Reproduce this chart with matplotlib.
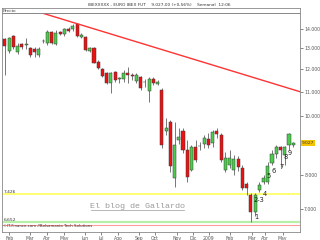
import matplotlib
matplotlib.use("Agg")
import matplotlib.pyplot as plt
import matplotlib.transforms as mtransforms
from matplotlib.ticker import FixedLocator, NullLocator

# weekly candles, IBEX futures (points)
opens = [13457, 12880, 13629, 12830, 13216, 13180, 12999, 12964, 12668, 13370,
         13251, 13857, 13216, 13857, 13734, 14000, 13985, 14273, 13592, 13592,
         12865, 12999, 12347, 11990, 11835, 11362, 11881, 11540, 11538, 11835,
         11731, 11476, 11628, 11400, 11043, 11538, 11350, 11073, 9469, 9802,
         7884, 9136, 9469, 8791, 8140, 8883, 8910, 8996, 9160, 9020,
         9469, 9313, 8140, 8299, 8140, 8492, 8203, 7713, 7394, 6926,
         7538, 7773, 7773, 8363, 8657, 8893, 8624, 8962, 8960]
highs = [13524, 13561, 13682, 13251, 13282, 13509, 13080, 13049, 13049, 13457,
         13947, 13910, 13947, 13910, 14038, 14093, 14273, 14345, 13771, 13629,
         13049, 13049, 12427, 12037, 11881, 11881, 11926, 11654, 11958, 12111,
         11808, 11808, 11686, 11538, 11628, 11628, 11500, 11146, 9950, 9866,
         9802, 9550, 9550, 9136, 8950, 9136, 9050, 9300, 9385, 9500,
         9550, 9385, 8724, 8791, 8624, 8600, 8299, 7773, 7451, 7451,
         7773, 7985, 8395, 8791, 8962, 8927, 8927, 9385, 9060]
lows = [11731, 12752, 12950, 12717, 12950, 12950, 12586, 12586, 12586, 13282,
        13165, 13216, 13165, 13666, 13629, 13857, 13910, 13592, 13509, 12880,
        12830, 12271, 11990, 11654, 11331, 10933, 11432, 11362, 11432, 11362,
        11507, 11388, 11073, 11214, 10586, 11300, 11300, 8849, 9300, 8087,
        7634, 9000, 8700, 7782, 8100, 8400, 8800, 8850, 8850, 8900,
        9200, 8395, 8078, 8203, 7985, 8100, 7538, 7394, 6652, 6820,
        7480, 7713, 7713, 8299, 8525, 8235, 8299, 8791, 8900]
closes = [13115, 13509, 13049, 13115, 13049, 13190, 12668, 12816, 12950, 13384,
          13857, 13282, 13803, 13719, 13985, 13910, 14164, 13629, 13682, 12915,
          12999, 12299, 12037, 11686, 11362, 11835, 11507, 11580, 11808, 11731,
          11686, 11731, 11146, 11430, 11538, 11362, 11432, 8962, 9556, 8266,
          8962, 9252, 8791, 7933, 8883, 8459, 8927, 9196, 8962, 9432,
          9349, 8459, 8525, 8525, 8492, 8235, 7596, 7596, 6926, 7394,
          7684, 7884, 8266, 8657, 8893, 8791, 8893, 9349, 9027]

month_labels = ["Feb", "Mar", "Abr", "May", "Jun", "Jul", "Ago", "Sep", "Oct",
                "Nov", "Dic", "2009", "Feb", "Mar", "Abr", "May"]
month_pos = [1.0, 5.9, 9.8, 13.9, 18.9, 22.6, 26.7, 31.6, 35.4, 40.6, 44.3,
             48.1, 53.1, 58.2, 61.3, 65.5]

y_ticks = [7000, 8000, 9000, 10000, 11000, 12000, 13000, 14000]

support_levels = [7426, 6652]
support_low = 6590
trend_x = [9.0, 69.6]
trend_y = [14870, 11000]

wave_labels = ["1", "2-3", "4", "5", "6", "7", "8", "9"]
wave_x = [59.4, 59.8, 61.2, 62.3, 63.3, 65.3, 66.3, 67.2]
wave_y = [6802, 7250, 7423, 7955, 8118, 8225, 8548, 8700]

last_price = 9027


def fmt(v):
    return f"{v:,}".replace(",", ".")


W, H = 320, 240
fig = plt.figure(figsize=(3.2, 2.4), dpi=100)
ax = fig.add_axes([2 / W, 8 / H, 298 / W, 219 / H])
ax.set_yscale("log")
ax.set_ylim(6413, 14889)
ax.set_xlim(-0.7, 69.6)
mixed = mtransforms.blended_transform_factory(ax.transAxes, ax.transData)

for i in range(len(opens)):
    o, c, h, l = opens[i], closes[i], highs[i], lows[i]
    up = c >= o
    ax.vlines(i, l, h, color="#606060", lw=0.6, zorder=2)
    lo, hi = min(o, c), max(o, c)
    if hi - lo < 15:
        hi = lo + 15
    ax.bar(i, hi - lo, bottom=lo, width=0.72,
           color="#4ccc4c" if up else "#ee1111",
           edgecolor="#3a3a3a", linewidth=0.35, zorder=3)

ax.plot(trend_x, trend_y, color="#ff3333", lw=1.0, zorder=4)
ax.axhline(support_levels[0], color="#ffff66", lw=1.3, zorder=1)
ax.axhline(support_levels[1], color="#b8f0a8", lw=1.6, zorder=1)
ax.axhline(support_low, color="#ff9c9c", lw=0.8, zorder=1)

for lvl in support_levels:
    ax.text(0.006, lvl, fmt(lvl), fontsize=3.2, color="#333333",
            va="bottom", ha="left", transform=mixed)

for t, x, y in zip(wave_labels, wave_x, wave_y):
    ax.text(x, y, t, fontsize=4.8, color="#222222", ha="center", va="center", zorder=5)

ax.text(0.455, 0.117, "El blog de Gallardo", transform=ax.transAxes,
        family="Liberation Mono", fontsize=6, color="#9a9a9a",
        ha="center", va="center")
ax.plot([0.297, 0.612], [0.100, 0.100], transform=ax.transAxes,
        color="#9a9a9a", lw=0.5)

ax.text(0.004, 0.016, "\u00a9IT-Finance.com //Bolsamania Tech Solutions",
        transform=ax.transAxes, fontsize=2.8, color="#333333", va="bottom")

ax.yaxis.tick_right()
ax.yaxis.set_major_locator(FixedLocator(y_ticks))
ax.yaxis.set_minor_locator(NullLocator())
# the 9.000 label sits under the last-price box
ax.set_yticklabels(["" if v == 9000 else fmt(v) for v in y_ticks])
ax.set_xticks(month_pos)
ax.set_xticklabels(month_labels)
ax.tick_params(axis="both", labelsize=3.3, colors="#555555", length=2,
               width=0.5, pad=1)
for s in ax.spines.values():
    s.set_color("#888888")
    s.set_linewidth(0.6)

ax.text(1.006, last_price, fmt(last_price), fontsize=3.2, color="#333333",
        va="center", ha="left", transform=mixed,
        bbox=dict(boxstyle="square,pad=0.2", fc="#f5c400", ec="none"))

head = fig.add_axes([2 / W, 227 / H, 298 / W, 5 / H])
head.set_xticks([])
head.set_yticks([])
for s in head.spines.values():
    s.set_color("#888888")
    s.set_linewidth(0.6)
head.text(0.004, 0.45, "Precio", fontsize=3, family="serif", va="center",
          color="#333333")

fig.text(0.497, 1 - 4.5 / H,
         "IBEXXXXX - EURO IBEX FUT    9.027,00 (+0,56%)    Semanal  12:06",
         fontsize=3.1, ha="center", va="center", color="#333333")

fig.savefig("out.png", dpi=100)
